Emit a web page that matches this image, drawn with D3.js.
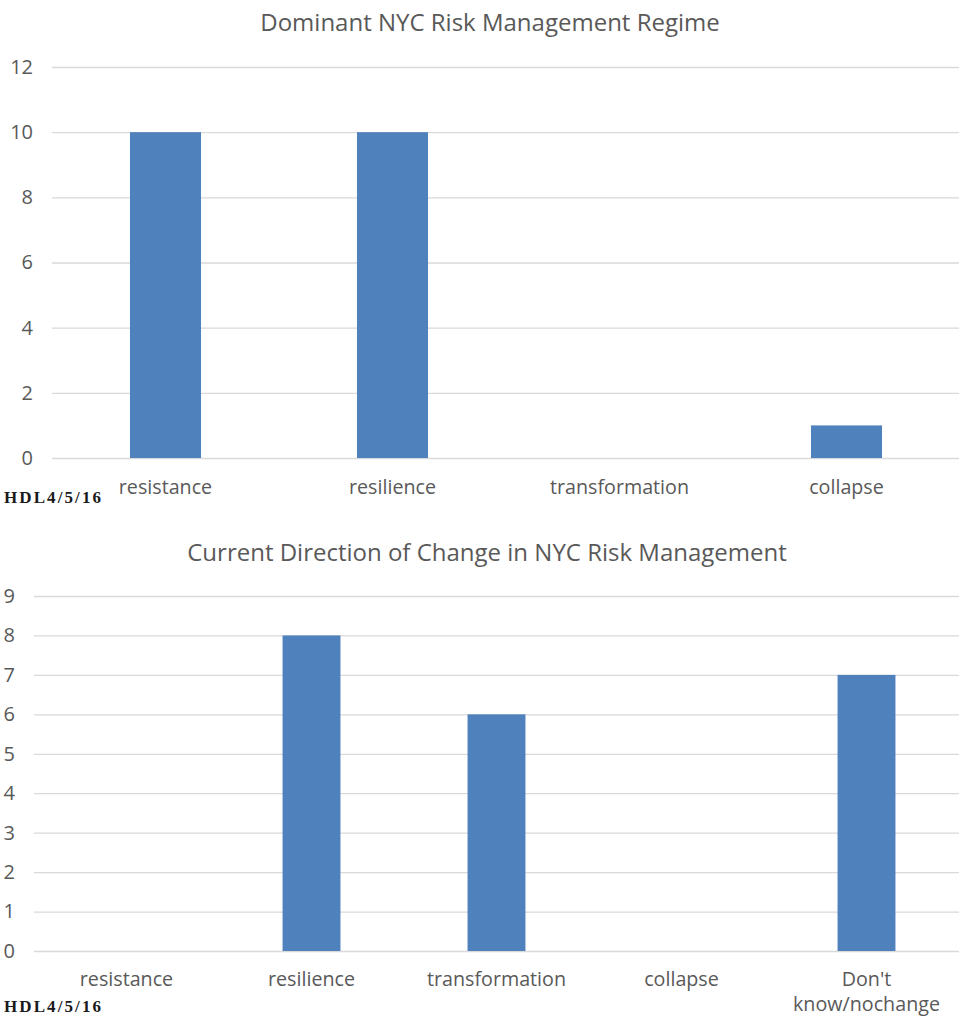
<!DOCTYPE html>
<html>
<head>
<meta charset="utf-8">
<script src="https://cdn.jsdelivr.net/npm/d3@7"></script>
<style>
  html, body { margin: 0; padding: 0; background: #ffffff; }
  svg { display: block; }
  text { font-family: "Open Sans", "Noto Sans", sans-serif; }
</style>
</head>
<body>
<script>
// Survey responses, panel 1: dominant regime
const regimeTitle = "Dominant NYC Risk Management Regime";
const regimeCategories = ["resistance", "resilience", "transformation", "collapse"];
const regimeValues = [10, 10, 0, 1];
const regimeTicks = [0, 2, 4, 6, 8, 10, 12];

// Survey responses, panel 2: direction of change
const changeTitle = "Current Direction of Change in NYC Risk Management";
const changeCategories = ["resistance", "resilience", "transformation", "collapse", "Don't know/nochange"];
const changeValues = [0, 8, 6, 0, 7];
const changeTicks = [0, 1, 2, 3, 4, 5, 6, 7, 8, 9];

const stampText = "HDL4/5/16";

const W = 959, H = 1018;
const BAR = "#4f81bd", GRID = "#d9d9d9", TEXT = "#595959";

const svg = d3.select("body").append("svg")
  .attr("width", W).attr("height", H);

function drawPanel(opt) {
  const g = svg.append("g");
  const x = d3.scaleBand()
    .domain(opt.categories)
    .range([opt.left, opt.right])
    .paddingInner(0.687).paddingOuter(0.3435);
  const y = d3.scaleLinear()
    .domain([0, d3.max(opt.ticks)])
    .range([opt.bottom, opt.top]);

  // title
  g.append("text")
    .attr("x", opt.titleX).attr("y", opt.titleY)
    .attr("text-anchor", "middle")
    .attr("fill", TEXT)
    .style("font-size", "24px")
    .text(opt.title);

  // gridlines + value axis labels
  const yAxis = d3.axisLeft(y)
    .tickValues(opt.ticks)
    .tickSize(-(opt.right - opt.left))
    .tickPadding(19)
    .tickFormat(d3.format("d"));
  const ya = g.append("g")
    .attr("transform", `translate(${opt.left},0)`)
    .call(yAxis);
  ya.select(".domain").remove();
  ya.selectAll(".tick line").attr("stroke", GRID).attr("stroke-width", 1.3);
  ya.selectAll(".tick text")
    .attr("fill", TEXT)
    .style("font-size", "20px")
    .style("font-family", "'Open Sans', sans-serif");

  // bars
  g.selectAll("rect.bar")
    .data(opt.values.map((v, i) => ({ c: opt.categories[i], v })))
    .join("rect")
    .attr("class", "bar")
    .attr("x", d => x(d.c))
    .attr("width", x.bandwidth())
    .attr("y", d => y(d.v))
    .attr("height", d => y(0) - y(d.v))
    .attr("fill", BAR);

  // category labels (wrapped when wider than the slot)
  opt.categories.forEach(c => {
    const cx = x(c) + x.bandwidth() / 2;
    const t = g.append("text")
      .attr("x", cx).attr("y", opt.labelY)
      .attr("text-anchor", "middle")
      .attr("fill", TEXT)
      .style("font-size", "19.7px");
    const slot = x.step();
    t.text(c);
    if (t.node().getComputedTextLength() > slot - 8 && c.indexOf(" ") > 0) {
      t.text(null);
      const words = c.split(" ");
      t.append("tspan").attr("x", cx).attr("dy", 0).text(words[0]);
      t.append("tspan").attr("x", cx).attr("dy", 24.5).text(words.slice(1).join(" "));
    }
  });

  // author stamp
  g.append("text")
    .attr("x", 4).attr("y", opt.stampY)
    .attr("fill", "#1a1a1a")
    .style("font-family", "'Liberation Serif', 'DejaVu Serif', serif")
    .style("font-weight", "bold")
    .style("font-size", "17px")
    .attr("textLength", 97)
    .attr("lengthAdjust", "spacing")
    .text(stampText);
}

drawPanel({
  title: regimeTitle, categories: regimeCategories, values: regimeValues, ticks: regimeTicks,
  left: 52, right: 960, top: 67, bottom: 458,
  titleX: 490, titleY: 31, labelY: 494, stampY: 503
});

drawPanel({
  title: changeTitle, categories: changeCategories, values: changeValues, ticks: changeTicks,
  left: 34, right: 959, top: 596, bottom: 951,
  titleX: 487, titleY: 561, labelY: 986, stampY: 1012
});
</script>
</body>
</html>
